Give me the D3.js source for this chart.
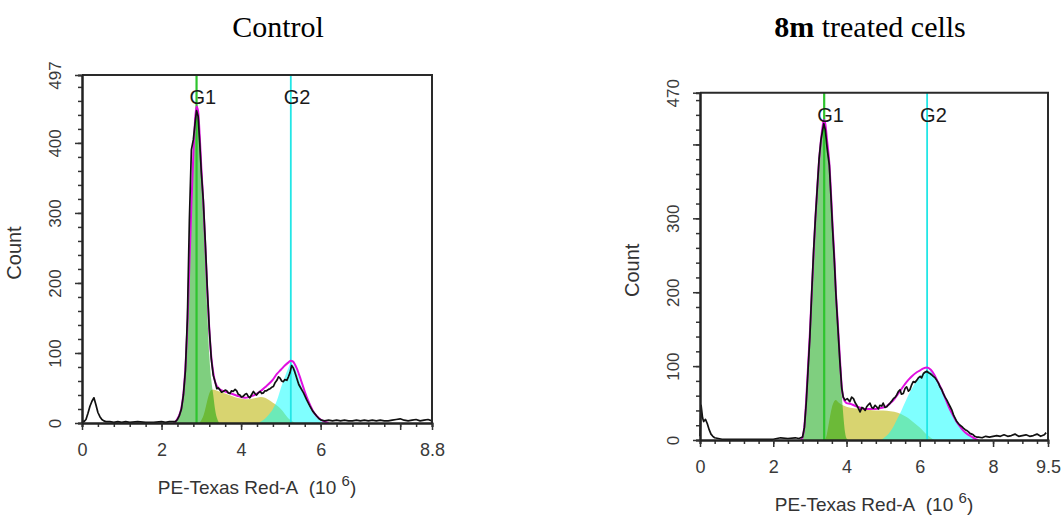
<!DOCTYPE html>
<html>
<head>
<meta charset="utf-8">
<script src="https://cdn.jsdelivr.net/npm/d3@7"></script>
<style>
  html, body { margin: 0; padding: 0; background: #fff; }
  svg { display: block; }
  text { font-family: "Liberation Sans", Arial, sans-serif; }
</style>
</head>
<body>
<svg id="chart" width="1062" height="515"></svg>
<script>
// ---------------- DATA ----------------
// x: PE-Texas Red-A (10^6), y: Count

// ---- Control ----
const controlHist = [
  [0.0,3],[0.05,2],[0.1,5],[0.15,14],[0.2,24],[0.25,31],[0.3,36],[0.35,26],[0.4,15],[0.45,9],[0.5,5],[0.55,3],
  [0.6,2],[0.7,2],[0.8,1],[0.9,2],[1.0,1],[1.1,2],[1.2,1],[1.4,2],[1.6,1],[1.8,1],[2.0,2],[2.1,1],[2.2,2],[2.3,2],
  [2.35,2],[2.4,5],[2.45,11],[2.5,20],[2.55,40],[2.6,75],[2.65,150],[2.7,290],[2.75,390],[2.8,405],[2.85,432],
  [2.88,446],[2.92,438],[2.96,400],[3.0,358],[3.05,318],[3.1,258],[3.15,192],[3.2,135],[3.25,92],[3.3,68],
  [3.35,58],[3.39,49],[3.43,50],[3.47,47],[3.51,44],[3.55,45],[3.6,47],[3.64,46],[3.68,43],[3.72,42],[3.76,46],
  [3.8,45],[3.85,48],[3.89,46],[3.93,41],[3.97,40],[4.01,37],[4.05,38],[4.1,41],[4.14,42],[4.18,38],[4.22,36],
  [4.27,41],[4.31,45],[4.35,42],[4.39,40],[4.43,43],[4.48,45],[4.52,42],[4.56,43],[4.6,46],[4.64,46],[4.69,48],
  [4.73,49],[4.77,51],[4.81,52],[4.85,57],[4.9,61],[4.94,66],[4.98,64],[5.02,60],[5.06,59],[5.1,62],[5.15,61],
  [5.19,66],[5.23,72],[5.27,82],[5.31,79],[5.35,73],[5.4,64],[5.45,55],[5.5,50],[5.57,43],[5.65,33],[5.73,24],
  [5.8,17],[5.9,10],[5.96,6],[6.02,4],[6.1,3],[6.2,4],[6.3,3],[6.4,4],[6.5,3],[6.6,4],[6.7,3],[6.8,3],[6.9,4],
  [7.0,3],[7.1,4],[7.2,3],[7.3,4],[7.4,3],[7.5,4],[7.6,3],[7.7,3],[7.8,4],[7.9,5],[8.0,6],[8.1,4],[8.2,3],
  [8.3,4],[8.4,5],[8.5,3],[8.6,4],[8.7,5],[8.8,3]
];
const controlFit = [
  [2.3,0],[2.35,2],[2.4,6],[2.45,12],[2.5,22],[2.55,42],[2.6,80],[2.65,140],[2.7,225],[2.75,310],[2.8,385],
  [2.85,438],[2.88,452],[2.92,445],[2.96,410],[3.0,365],[3.05,315],[3.1,255],[3.15,190],[3.2,135],[3.25,95],
  [3.3,72],[3.35,58],[3.4,52],[3.45,49],[3.5,47],[3.6,45],[3.7,43],[3.8,41],[3.9,39],[4.0,37],[4.1,36],[4.2,37],
  [4.3,39],[4.4,42],[4.5,46],[4.6,51],[4.7,56],[4.8,62],[4.9,70],[5.0,76],[5.1,82],[5.2,87],[5.25,89],[5.3,88],
  [5.4,78],[5.5,62],[5.6,45],[5.7,30],[5.8,18],[5.9,10],[6.0,5],[6.1,2],[6.2,0]
];
const controlG1 = [
  [2.3,0],[2.35,1],[2.4,5],[2.45,11],[2.5,21],[2.55,41],[2.6,79],[2.65,139],[2.7,224],[2.75,309],[2.8,384],
  [2.85,437],[2.88,451],[2.92,444],[2.96,409],[3.0,361],[3.05,305],[3.1,235],[3.15,160],[3.2,98],[3.25,62],
  [3.3,40],[3.35,18],[3.4,6],[3.45,0]
];
const controlS = [
  [2.95,0],[3.0,4],[3.05,10],[3.1,20],[3.15,32],[3.2,42],[3.25,47],[3.3,48],[3.4,46],[3.5,44],[3.6,42],[3.7,40],
  [3.8,38],[3.9,36],[4.0,35],[4.1,34],[4.2,34],[4.3,35],[4.4,36],[4.5,37],[4.6,36],[4.7,33],[4.8,29],[4.9,25],
  [5.0,20],[5.1,13],[5.2,6],[5.3,2],[5.35,0]
];
const controlG2 = [
  [4.45,0],[4.5,2],[4.6,6],[4.7,12],[4.8,20],[4.9,32],[5.0,50],[5.1,66],[5.2,80],[5.25,85],[5.3,84],[5.4,72],
  [5.5,55],[5.6,39],[5.7,25],[5.8,15],[5.9,8],[6.0,3],[6.1,1],[6.2,0]
];
const controlGates = [["G1", 2.88], ["G2", 5.25]];
const controlXMajor = [0, 2, 4, 6, 8, 8.8];
const controlXLabels = [0, 2, 4, 6, 8.8];
const controlYMajor = [0, 100, 200, 300, 400, 497];
const controlYLabels = [0, 100, 200, 300, 400, 497];

// ---- 8m treated cells ----
const treatedHist = [
  [0.0,5],[0.03,47],[0.07,30],[0.1,25],[0.15,28],[0.2,22],[0.25,14],[0.3,8],[0.35,5],[0.4,3],[0.5,2],[0.6,1],
  [0.8,1],[1.0,1],[1.2,1],[1.4,1],[1.6,1],[1.8,1],[2.0,1],[2.2,3],[2.4,2],[2.6,3],[2.7,2],[2.8,4],[2.85,17],
  [2.9,50],[2.95,95],[3.0,140],[3.05,200],[3.1,255],[3.15,300],[3.2,340],[3.25,380],[3.3,405],[3.35,420],
  [3.38,428],[3.42,420],[3.47,395],[3.53,372],[3.58,325],[3.62,285],[3.67,240],[3.71,198],[3.76,155],[3.82,105],
  [3.87,70],[3.91,58],[3.96,54],[4.02,56],[4.09,52],[4.14,58],[4.19,56],[4.24,50],[4.28,47],[4.33,42],[4.37,38],
  [4.42,44],[4.46,43],[4.51,40],[4.55,45],[4.6,48],[4.64,50],[4.69,44],[4.73,43],[4.78,47],[4.82,45],[4.87,42],
  [4.91,47],[4.96,46],[5.0,50],[5.05,44],[5.1,45],[5.15,48],[5.19,50],[5.24,53],[5.28,56],[5.33,58],[5.37,61],
  [5.42,66],[5.46,68],[5.5,62],[5.55,63],[5.6,70],[5.64,72],[5.69,66],[5.73,68],[5.78,75],[5.82,79],[5.87,78],
  [5.92,81],[5.96,84],[6.01,86],[6.05,84],[6.1,90],[6.15,92],[6.19,93],[6.24,91],[6.28,90],[6.33,88],[6.37,86],
  [6.42,84],[6.46,81],[6.51,77],[6.55,72],[6.6,68],[6.64,63],[6.69,58],[6.74,54],[6.78,50],[6.83,45],[6.88,40],
  [6.92,34],[6.97,29],[7.01,25],[7.06,22],[7.1,20],[7.15,18],[7.19,16],[7.24,14],[7.28,13],[7.33,11],[7.37,9],
  [7.42,8],[7.46,7],[7.5,5],[7.55,4],[7.6,4],[7.7,3],[7.8,5],[7.9,4],[8.0,5],[8.1,6],[8.2,5],[8.3,7],[8.4,5],
  [8.5,6],[8.6,8],[8.7,5],[8.8,6],[8.9,7],[9.0,5],[9.1,6],[9.2,8],[9.3,5],[9.4,7],[9.45,10]
];
const treatedFit = [
  [2.75,0],[2.8,4],[2.85,19],[2.9,55],[2.95,100],[3.0,145],[3.05,198],[3.1,250],[3.15,300],[3.2,340],[3.25,378],
  [3.3,405],[3.35,425],[3.38,433],[3.42,428],[3.47,405],[3.53,375],[3.58,330],[3.62,290],[3.67,245],[3.71,200],
  [3.76,160],[3.82,110],[3.87,72],[3.91,58],[3.96,52],[4.0,50],[4.1,49],[4.2,47],[4.3,45],[4.4,43],[4.5,42],
  [4.6,42],[4.7,42],[4.8,42],[4.9,43],[5.0,44],[5.1,46],[5.2,50],[5.3,55],[5.4,62],[5.5,69],[5.6,76],[5.7,82],
  [5.8,87],[5.9,91],[6.0,94],[6.1,97],[6.2,98],[6.3,95],[6.4,88],[6.5,78],[6.6,68],[6.7,56],[6.8,44],[6.9,34],
  [7.0,25],[7.1,18],[7.2,12],[7.3,8],[7.4,5],[7.5,2],[7.6,0]
];
const treatedG1 = [
  [2.75,0],[2.8,4],[2.85,19],[2.9,55],[2.95,100],[3.0,145],[3.05,197],[3.1,249],[3.15,299],[3.2,339],[3.25,377],
  [3.3,404],[3.35,424],[3.38,432],[3.42,427],[3.47,403],[3.53,370],[3.58,322],[3.62,280],[3.67,235],[3.71,192],
  [3.76,150],[3.82,100],[3.87,62],[3.91,35],[3.96,10],[4.0,2],[4.05,0]
];
const treatedS = [
  [3.4,0],[3.45,5],[3.5,18],[3.55,32],[3.6,44],[3.65,51],[3.7,54],[3.8,50],[3.9,47],[4.0,45],[4.2,43],[4.4,42],
  [4.6,41],[4.8,40],[5.0,40],[5.2,39],[5.4,37],[5.5,35],[5.6,32],[5.7,29],[5.8,25],[5.9,21],[6.0,17],[6.1,12],
  [6.2,7],[6.3,3],[6.4,0]
];
const treatedG2 = [
  [4.95,0],[5.0,2],[5.1,6],[5.2,12],[5.3,20],[5.4,30],[5.5,40],[5.6,51],[5.7,62],[5.8,71],[5.9,79],[6.0,86],
  [6.1,91],[6.2,94],[6.3,93],[6.4,88],[6.5,79],[6.6,68],[6.7,56],[6.8,44],[6.9,34],[7.0,25],[7.1,18],[7.2,12],
  [7.3,8],[7.4,5],[7.5,2],[7.6,0]
];
const treatedGates = [["G1", 3.39], ["G2", 6.2]];
const treatedXMajor = [0, 2, 4, 6, 8, 9.5];
const treatedXLabels = [0, 2, 4, 6, 8, 9.5];
const treatedYMajor = [0, 100, 200, 300, 400, 470];
const treatedYLabels = [0, 100, 200, 300, 470];

// ---------------- DRAWING ----------------
const svg = d3.select("#chart");

const panels = [
  {
    title: [{t: "Control", bold: false}], titleX: 278, titleY: 37,
    xMax: 8.8, yMax: 497, left: 82, right: 432, top: 75, bottom: 423,
    hist: controlHist, fit: controlFit, g1: controlG1, s: controlS, g2: controlG2, gates: controlGates,
    xMajor: controlXMajor, xLabels: controlXLabels, yMajor: controlYMajor, yLabels: controlYLabels
  },
  {
    title: [{t: "8m", bold: true}, {t: " treated cells", bold: false}], titleX: 870, titleY: 37,
    xMax: 9.5, yMax: 470, left: 700, right: 1048, top: 92.7, bottom: 440,
    hist: treatedHist, fit: treatedFit, g1: treatedG1, s: treatedS, g2: treatedG2, gates: treatedGates,
    xMajor: treatedXMajor, xLabels: treatedXLabels, yMajor: treatedYMajor, yLabels: treatedYLabels
  }
];

panels.forEach(p => {
  const g = svg.append("g");
  const x = d3.scaleLinear().domain([0, p.xMax]).range([p.left, p.right]);
  const y = d3.scaleLinear().domain([0, p.yMax]).range([p.bottom, p.top]);

  // title
  const tt = g.append("text")
    .attr("x", p.titleX).attr("y", p.titleY)
    .attr("text-anchor", "middle")
    .style("font-family", "'Liberation Serif', 'Times New Roman', serif")
    .style("font-size", "30px").attr("fill", "#000");
  p.title.forEach(seg => tt.append("tspan").text(seg.t).style("font-weight", seg.bold ? "bold" : "normal"));

  const area = d3.area().x(d => x(d[0])).y0(y(0)).y1(d => y(d[1])).curve(d3.curveMonotoneX);

  // component fills
  g.append("path").datum(p.s).attr("d", area).attr("fill", "#d8d470");
  g.append("path").datum(p.g1).attr("d", area).attr("fill", "#00a000").attr("fill-opacity", 0.5);
  g.append("path").datum(p.g2).attr("d", area).attr("fill", "#00ffff").attr("fill-opacity", 0.5);

  // gate lines
  p.gates.forEach(([name, v], i) => {
    g.append("line").attr("x1", x(v)).attr("x2", x(v)).attr("y1", p.top).attr("y2", p.bottom)
      .attr("stroke", i === 0 ? "#2ec42e" : "#22e6e6").attr("stroke-width", i === 0 ? 2.2 : 1.8);
  });

  // model fit (magenta) and data histogram (black)
  g.append("path").datum(p.fit)
    .attr("d", d3.line().x(d => x(d[0])).y(d => y(d[1])).curve(d3.curveMonotoneX))
    .attr("fill", "none").attr("stroke", "#e010e0").attr("stroke-width", 2);
  g.append("path").datum(p.hist).attr("d", d3.line().x(d => x(d[0])).y(d => y(d[1])))
    .attr("fill", "none").attr("stroke", "#111").attr("stroke-width", 1.7).attr("stroke-linejoin", "round");

  // gate labels
  p.gates.forEach(([name, v]) => {
    g.append("text").attr("x", x(v) - 7).attr("y", p.top + 29)
      .attr("fill", "#1a1a1a").style("font-size", "20px").text(name);
  });

  // frame (top & right)
  g.append("path")
    .attr("d", `M${p.left},${p.top}H${p.right}V${p.bottom}`)
    .attr("fill", "none").attr("stroke", "#2a2a2a").attr("stroke-width", 2);

  // axes
  const minorX = d3.range(0, p.xMax + 1e-9, 0.4);
  const minorY = d3.range(0, p.yMax + 1e-9, 20);

  const gxMinor = g.append("g").attr("transform", `translate(0,${p.bottom})`)
    .call(d3.axisBottom(x).tickValues(minorX).tickSize(4).tickFormat(""));
  const gxMajor = g.append("g").attr("transform", `translate(0,${p.bottom})`)
    .call(d3.axisBottom(x).tickValues(p.xMajor).tickSize(7).tickSizeOuter(0)
      .tickFormat(d => p.xLabels.includes(d) ? String(d) : ""));
  const gyMinor = g.append("g").attr("transform", `translate(${p.left},0)`)
    .call(d3.axisLeft(y).tickValues(minorY).tickSize(4).tickFormat(""));
  const gyMajor = g.append("g").attr("transform", `translate(${p.left},0)`)
    .call(d3.axisLeft(y).tickValues(p.yMajor).tickSize(7).tickSizeOuter(0)
      .tickFormat(d => p.yLabels.includes(d) ? String(d) : ""));

  [gxMinor, gxMajor, gyMinor, gyMajor].forEach(a => {
    a.select(".domain").attr("stroke", "#222").attr("stroke-width", 2);
    a.selectAll(".tick line").attr("stroke", "#333").attr("stroke-width", 1.5);
  });
  gxMajor.selectAll(".tick text")
    .attr("y", 20).attr("dy", "0.71em")
    .style("font-size", "18px").attr("fill", "#3a3a3a");
  gyMajor.selectAll(".tick text")
    .attr("x", 0).attr("dy", 0)
    .attr("text-anchor", "middle")
    .attr("transform", "translate(-21,0) rotate(-90)")
    .style("font-size", "17px").attr("fill", "#3a3a3a");

  // axis titles
  const cx = (p.left + p.right) / 2;
  const xt = g.append("text").attr("x", cx).attr("y", p.bottom + 71)
    .attr("text-anchor", "middle").style("font-size", "19px").attr("fill", "#333");
  xt.append("tspan").text("PE-Texas Red-A\u00a0\u00a0(10\u00a0");
  xt.append("tspan").attr("dy", -8).style("font-size", "15px").text("6");
  xt.append("tspan").attr("dy", 8).text(")");

  const cy = (p.top + p.bottom) / 2 + 4;
  g.append("text").attr("transform", `translate(${p.left - 61},${cy}) rotate(-90)`)
    .attr("text-anchor", "middle").style("font-size", "20px").attr("fill", "#333").text("Count");
});
</script>
</body>
</html>
